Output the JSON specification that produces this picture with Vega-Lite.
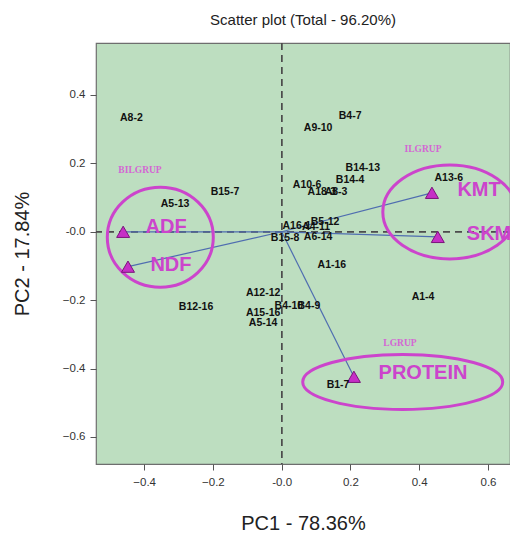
{
  "$schema": "https://vega.github.io/schema/vega-lite/v6.json",
  "width": 414,
  "height": 421,
  "autosize": {"type": "none"},
  "padding": {"left": 96, "top": 43, "right": 0, "bottom": 70},
  "title": {"text": "Scatter plot (Total - 96.20%)", "font": "Liberation Sans", "fontSize": 15, "fontWeight": "normal", "color": "#222", "offset": 14, "anchor": "middle"},
  "config": {
    "view": {"fill": "#bddec0", "stroke": "#6e6e6e", "strokeWidth": 1.2},
    "axis": {"domain": false, "grid": false, "labelFont": "Liberation Sans", "labelFontSize": 11.5, "labelColor": "#333", "tickColor": "#555", "tickSize": 6, "titleFont": "Liberation Sans", "titleFontSize": 20, "titleFontWeight": "normal", "titleColor": "#222"}
  },
  "datasets": {
    "obs": [
      {"name": "A8-2", "pc1": -0.437, "pc2": 0.334},
      {"name": "B15-7", "pc1": -0.165, "pc2": 0.117},
      {"name": "A5-13", "pc1": -0.31, "pc2": 0.082},
      {"name": "B4-7", "pc1": 0.199, "pc2": 0.339},
      {"name": "A9-10", "pc1": 0.106, "pc2": 0.304},
      {"name": "B14-13", "pc1": 0.236, "pc2": 0.187},
      {"name": "A10-6", "pc1": 0.074, "pc2": 0.137},
      {"name": "B14-4", "pc1": 0.199, "pc2": 0.152},
      {"name": "A18-3", "pc1": 0.117, "pc2": 0.117},
      {"name": "A8-3", "pc1": 0.158, "pc2": 0.117},
      {"name": "A13-6", "pc1": 0.486, "pc2": 0.158},
      {"name": "A16-1", "pc1": 0.044, "pc2": 0.018},
      {"name": "A4-11", "pc1": 0.1, "pc2": 0.015},
      {"name": "B5-12", "pc1": 0.126, "pc2": 0.029},
      {"name": "A6-14", "pc1": 0.106, "pc2": -0.015},
      {"name": "B15-8", "pc1": 0.01, "pc2": -0.018},
      {"name": "A1-16", "pc1": 0.146, "pc2": -0.096},
      {"name": "A12-12", "pc1": -0.054, "pc2": -0.178},
      {"name": "B4-10", "pc1": 0.021, "pc2": -0.216},
      {"name": "B4-9", "pc1": 0.079, "pc2": -0.216},
      {"name": "A15-16", "pc1": -0.054, "pc2": -0.237},
      {"name": "A5-14", "pc1": -0.054, "pc2": -0.266},
      {"name": "B12-16", "pc1": -0.249, "pc2": -0.219},
      {"name": "A1-4", "pc1": 0.411, "pc2": -0.19},
      {"name": "B1-7", "pc1": 0.164, "pc2": -0.447}
    ],
    "loadings": [
      {"var": "ADF", "pc1": -0.461, "pc2": 0.0},
      {"var": "NDF", "pc1": -0.447, "pc2": -0.102},
      {"var": "KMT", "pc1": 0.437, "pc2": 0.114},
      {"var": "SKM", "pc1": 0.454, "pc2": -0.015},
      {"var": "PROTEIN", "pc1": 0.21, "pc2": -0.424}
    ],
    "varlabels": [
      {"var": "ADF", "pc1": -0.336, "pc2": 0.015},
      {"var": "NDF", "pc1": -0.322, "pc2": -0.096},
      {"var": "KMT", "pc1": 0.574, "pc2": 0.123},
      {"var": "SKM", "pc1": 0.603, "pc2": -0.006},
      {"var": "PROTEIN", "pc1": 0.411, "pc2": -0.412}
    ],
    "groups": [
      {"group": "BILGRUP", "pc1": -0.412, "pc2": 0.181},
      {"group": "ILGRUP", "pc1": 0.411, "pc2": 0.243},
      {"group": "LGRUP", "pc1": 0.344, "pc2": -0.325}
    ]
  },
  "encoding": {
    "x": {"field": "pc1", "type": "quantitative", "scale": {"domain": [-0.54, 0.664], "nice": false, "zero": false},
      "axis": {"title": "PC1 - 78.36%", "values": [-0.4, -0.2, 0, 0.2, 0.4, 0.6], "labelExpr": "datum.value == 0 ? '-0.0' : format(datum.value, '.1f')", "labelPadding": 6, "titlePadding": 26}},
    "y": {"field": "pc2", "type": "quantitative", "scale": {"domain": [-0.679, 0.552], "nice": false, "zero": false},
      "axis": {"title": "PC2 - 17.84%", "values": [-0.6, -0.4, -0.2, 0, 0.2, 0.4], "labelExpr": "datum.value == 0 ? '-0.0' : format(datum.value, '.1f')", "labelPadding": 5, "titlePadding": 30}}
  },
  "layer": [
    {"data": {"name": "loadings"}, "mark": {"type": "rule", "color": "#4d4d4d", "strokeDash": [7, 5], "strokeWidth": 1.1},
      "encoding": {"x": {"datum": 0}, "y": null}},
    {"data": {"name": "loadings"}, "mark": {"type": "rule", "color": "#4d4d4d", "strokeDash": [7, 5], "strokeWidth": 1.1},
      "encoding": {"y": {"datum": 0}, "x": null}},
    {"data": {"name": "loadings"}, "mark": {"type": "rule", "color": "#4f6db0", "strokeWidth": 1.2},
      "encoding": {"x2": {"datum": 0}, "y2": {"datum": 0}}},
    {"data": {"values": [{"pc1": -0.353, "pc2": -0.016}]},
      "mark": {"type": "point", "filled": false, "shape": "M-1,0A1,0.943,0,1,1,1,0A1,0.943,0,1,1,-1,0Z", "size": 11236, "stroke": "#cc44cc", "strokeWidth": 3, "opacity": 1}},
    {"data": {"values": [{"pc1": 0.489, "pc2": 0.058}]},
      "mark": {"type": "point", "filled": false, "shape": "M-1,0A1,0.701,0,1,1,1,0A1,0.701,0,1,1,-1,0Z", "size": 17956, "stroke": "#cc44cc", "strokeWidth": 3, "opacity": 1}},
    {"data": {"values": [{"pc1": 0.352, "pc2": -0.439}]},
      "mark": {"type": "point", "filled": false, "shape": "M-1,0A1,0.275,0,1,1,1,0A1,0.275,0,1,1,-1,0Z", "size": 40000, "stroke": "#cc44cc", "strokeWidth": 3, "opacity": 1}},
    {"data": {"name": "loadings"}, "mark": {"type": "point", "shape": "triangle-up", "filled": true, "fill": "#c62fc6", "stroke": "#7a147a", "strokeWidth": 1, "size": 170, "opacity": 1}},
    {"data": {"name": "obs"}, "mark": {"type": "text", "font": "Liberation Sans", "fontSize": 10.5, "fontWeight": "bold", "color": "#111"},
      "encoding": {"text": {"field": "name"}}},
    {"data": {"name": "varlabels"}, "mark": {"type": "text", "font": "Liberation Sans", "fontSize": 20, "fontWeight": "bold", "color": "#cc44cc"},
      "encoding": {"text": {"field": "var"}}},
    {"data": {"name": "groups"}, "mark": {"type": "text", "font": "Liberation Serif", "fontSize": 9.5, "fontWeight": "bold", "color": "#d466d4"},
      "encoding": {"text": {"field": "group"}}}
  ]
}
